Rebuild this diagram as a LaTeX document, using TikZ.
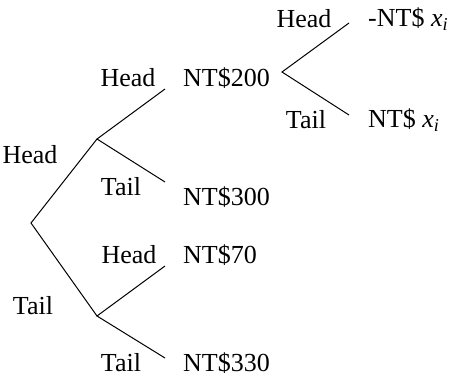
\documentclass[tikz,border=0pt]{standalone}
\usepackage{fontspec}
\setmainfont{Liberation Serif}
\tikzset{
  branch/.style={line width=1pt, black},
  lbl/.style={inner sep=0pt, font=\fontsize{26pt}{30pt}\selectfont},
  val/.style={lbl, anchor=west}
}
\newcommand{\xivar}{{\itshape x}\textsubscript{\itshape i}}
\begin{document}
\begin{tikzpicture}[x=1pt, y=-1pt]
\useasboundingbox (0,0) rectangle (455,381);
% branch points
\coordinate (root) at (31,223);
\coordinate (up) at (97,139);
\coordinate (lo) at (97,316);
\coordinate (uh) at (165,89);
\coordinate (ut) at (165,182);
\coordinate (lh) at (165,266);
\coordinate (lt) at (165,358);
\coordinate (rf) at (282,72);
\coordinate (rh) at (349,23);
\coordinate (rt) at (349,115);
% branches
\draw[branch] (up) -- (root) -- (lo);
\draw[branch] (uh) -- (up) -- (ut);
\draw[branch] (lh) -- (lo) -- (lt);
\draw[branch] (rh) -- (rf) -- (rt);
% labels
\node[lbl] (l1) at (30,155) {Head};
\node[lbl] (l2) at (33,306) {Tail};
\node[lbl] (l3) at (128,78) {Head};
\node[lbl] (l4) at (121,187) {Tail};
\node[lbl] (l5) at (129,255) {Head};
\node[lbl] (l6) at (121,363) {Tail};
\node[lbl] (l7) at (304,19) {Head};
\node[lbl] (l8) at (306,120) {Tail};
\node[val] (v1) at (183,78) {NT\$200};
\node[val] (v2) at (183,197) {NT\$300};
\node[val] (v3) at (183,255) {NT\$70};
\node[val] (v4) at (183,363) {NT\$330};
\node[val] (v5) at (368,19) {-NT\$ \xivar};
\node[val] (v6) at (368,120) {NT\$ \xivar};
\end{tikzpicture}
\end{document}
